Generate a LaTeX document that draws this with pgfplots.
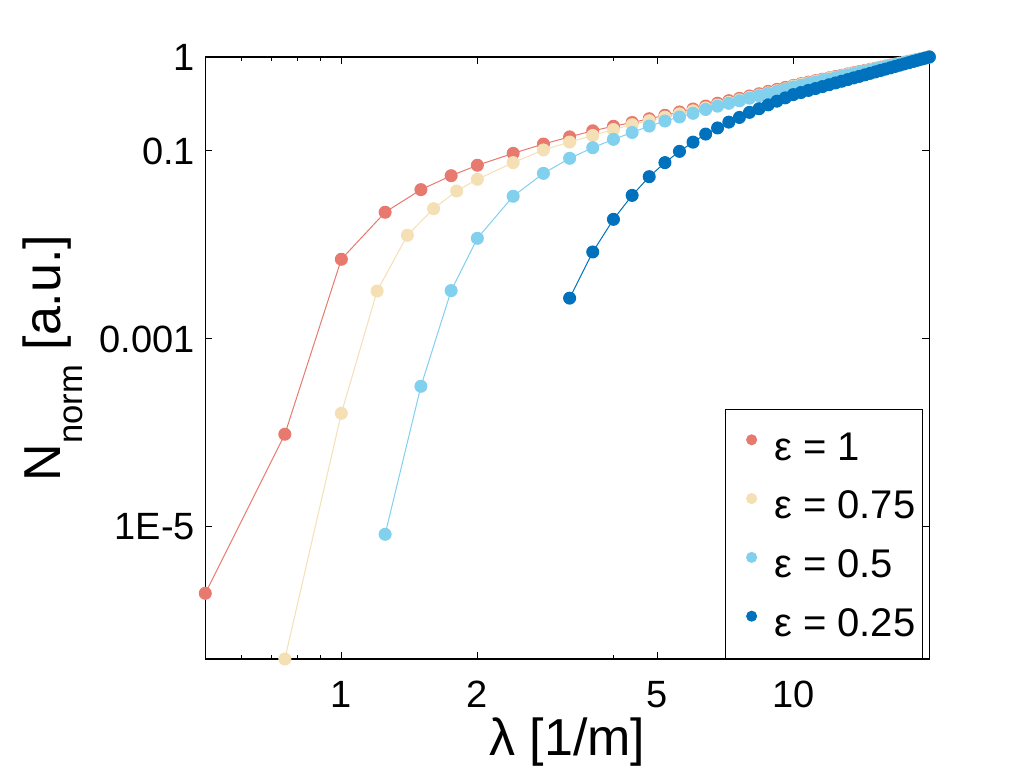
\documentclass[border=0pt]{standalone}
\usepackage{fontspec}
\setmainfont{Liberation Sans}
\usepackage{pgfplots}
\usepackage{pgfplotstable}
\pgfplotsset{compat=1.18}

\definecolor{cRed}{RGB}{232,121,110}
\definecolor{cTan}{RGB}{245,223,180}
\definecolor{cLBlue}{RGB}{128,208,238}
\definecolor{cDBlue}{RGB}{0,114,189}

\pgfplotstableread{
x y
0.5 1.97e-6
0.75 9.7e-5
1.0 7.05e-3
1.25 0.0223
1.5 0.0388
1.75 0.0546
2.0 0.0705
2.4 0.0944
2.8 0.1186
3.2 0.1413
3.6 0.1641
4.0 0.1832
4.4 0.2009
4.8 0.2203
5.2 0.2399
5.6 0.2600
6.0 0.2799
6.4 0.3006
6.8 0.3221
7.2 0.3428
7.6 0.3631
8.0 0.3846
8.4 0.4064
8.8 0.4305
9.2 0.452
9.6 0.474
10.0 0.498
10.4 0.52
10.8 0.54
11.2 0.56
11.6 0.58
12.0 0.60
12.4 0.62
12.8 0.64
13.2 0.66
13.6 0.68
14.0 0.70
14.4 0.72
14.8 0.74
15.2 0.76
15.6 0.78
16.0 0.80
16.4 0.82
16.8 0.84
17.2 0.86
17.6 0.88
18.0 0.90
18.4 0.92
18.8 0.94
19.2 0.96
19.6 0.98
20.0 1.0
}\dataA

\pgfplotstableread{
x y
0.75 3.94e-7
1.0 1.62e-4
1.2 3.24e-3
1.4 0.01268
1.6 0.02432
1.8 0.03754
2.0 0.0500
2.4 0.0752
2.8 0.1026
3.2 0.1245
3.6 0.1462
4.0 0.1690
4.4 0.1905
4.8 0.2099
5.2 0.2291
5.6 0.2483
6.0 0.2673
6.4 0.2877
6.8 0.3083
7.2 0.3289
7.6 0.3499
8.0 0.3715
8.4 0.3936
8.8 0.4159
9.2 0.4375
9.6 0.4592
10.0 0.4898
10.4 0.5099
10.8 0.5300
11.2 0.5502
11.6 0.5705
12.0 0.5909
12.4 0.6112
12.8 0.6316
13.2 0.6518
13.6 0.6722
14.0 0.6926
14.4 0.7129
14.8 0.7333
15.2 0.7536
15.6 0.7742
16.0 0.7945
16.4 0.8149
16.8 0.8356
17.2 0.8561
17.6 0.8766
18.0 0.8969
18.4 0.9177
18.8 0.9382
19.2 0.9589
19.6 0.9793
20.0 1.0
}\dataB

\pgfplotstableread{
x y
1.25 8.36e-6
1.5 3.14e-4
1.75 3.27e-3
2.0 0.01178
2.4 0.0330
2.8 0.0578
3.2 0.0836
3.6 0.1084
4.0 0.1330
4.4 0.1574
4.8 0.1841
5.2 0.2084
5.6 0.2301
6.0 0.2518
6.4 0.2767
6.8 0.2999
7.2 0.3214
7.6 0.3420
8.0 0.3648
8.4 0.3873
8.8 0.4093
9.2 0.4305
9.6 0.4539
10.0 0.4798
10.4 0.5000
10.8 0.5204
11.2 0.5408
11.6 0.5615
12.0 0.5818
12.4 0.6024
12.8 0.6231
13.2 0.6437
13.6 0.6643
14.0 0.6851
14.4 0.7057
14.8 0.7266
15.2 0.7473
15.6 0.7682
16.0 0.7892
16.4 0.8100
16.8 0.8313
17.2 0.8523
17.6 0.8734
18.0 0.8945
18.4 0.9155
18.8 0.9365
19.2 0.9577
19.6 0.9788
20.0 1.0
}\dataC

\pgfplotstableread{
x y
3.2 2.72e-3
3.6 8.43e-3
4.0 0.01875
4.4 0.0337
4.8 0.0533
5.2 0.0752
5.6 0.0991
6.0 0.1242
6.4 0.1514
6.8 0.1758
7.2 0.2028
7.6 0.2275
8.0 0.2576
8.4 0.2818
8.8 0.3097
9.2 0.3388
9.6 0.3673
10.0 0.398
10.4 0.419
10.8 0.441
11.2 0.462
11.6 0.484
12.0 0.507
12.4 0.530
12.8 0.552
13.2 0.575
13.6 0.599
14.0 0.622
14.4 0.646
14.8 0.670
15.2 0.694
15.6 0.719
16.0 0.743
16.4 0.768
16.8 0.793
17.2 0.818
17.6 0.844
18.0 0.869
18.4 0.895
18.8 0.921
19.2 0.947
19.6 0.973
20.0 1.0
}\dataD

\begin{document}
\begin{tikzpicture}
\useasboundingbox (-102.65pt,-57.5pt) rectangle (410.35pt,329.5pt);
\begin{axis}[
  at={(0pt,0pt)}, anchor=south west,
  scale only axis, width=362pt, height=301pt,
  xmode=log, ymode=log,
  xmin=0.5, xmax=20, ymin=3.94e-7, ymax=1,
  clip=false,
  axis line style={black, line width=0.65pt},
  xtick={1,2,5,10}, xticklabels={1,2,5,10},
  minor xtick={0.6,0.7,0.8,0.9,4},
  ytick={1e-5,0.001,0.1,1}, yticklabels={1E-5,0.001,0.1,1},
  yminorticks=false,
  tick align=inside, xtick pos=both, ytick pos=both,
  xticklabel pos=lower, yticklabel pos=left,
  major tick length=3.5pt, minor tick length=2pt,
  every tick/.style={black, line width=0.5pt},
  tick label style={font=\fontsize{19}{19}\selectfont},
  xticklabel style={anchor=base, yshift=-24pt},
  yticklabel style={anchor=east, inner sep=0pt, xshift=-5pt},
  label style={font=\fontsize{26}{26}\selectfont},
  xlabel={λ [1/m]},
  xlabel style={at={(axis description cs:0.5,-0.161)}, anchor=base},
  ylabel={N\raisebox{-11pt}{\fontsize{17.3}{17.3}\selectfont norm} [a.u.]},
  ylabel style={at={(axis description cs:-0.2003,0.5)}, anchor=base},
  legend cell align=left,
  legend image code/.code={\path (-9.2pt,0pt) (11pt,0pt); \draw[#1, only marks, mark size=2.5pt] plot coordinates {(0pt,3pt)};},
  legend style={at={(rel axis cs:0.9917,0)}, anchor=south east, draw=black, line width=0.5pt, fill=white,
    inner xsep=3.7pt, inner ysep=11pt, row sep=15.1pt, column sep=0pt,
    font=\fontsize{20}{20}\selectfont,
    nodes={inner sep=0pt, text height=14.3pt, text depth=0pt}},
]
\addplot[color=cRed, line width=0.5pt, mark=*, mark size=3pt, mark options={solid, fill=cRed, draw=cRed}] table[x=x,y=y] {\dataA};
\addlegendentry{ε = 1}
\addplot[color=cTan, line width=0.5pt, mark=*, mark size=3pt, mark options={solid, fill=cTan, draw=cTan}] table[x=x,y=y] {\dataB};
\addlegendentry{ε = 0.75}
\addplot[color=cLBlue, line width=0.5pt, mark=*, mark size=3pt, mark options={solid, fill=cLBlue, draw=cLBlue}] table[x=x,y=y] {\dataC};
\addlegendentry{ε = 0.5}
\addplot[color=cDBlue, line width=0.5pt, mark=*, mark size=3pt, mark options={solid, fill=cDBlue, draw=cDBlue}] table[x=x,y=y] {\dataD};
\addlegendentry{ε = 0.25}
\end{axis}
\end{tikzpicture}
\end{document}
